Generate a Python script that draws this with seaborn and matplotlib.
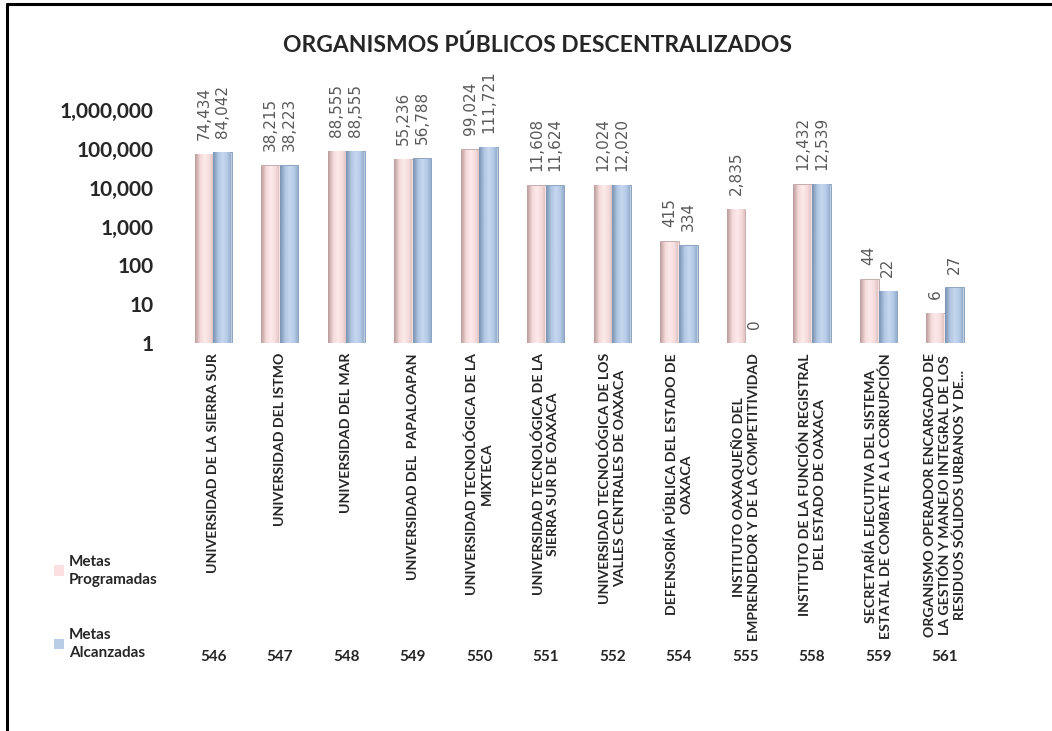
import matplotlib
matplotlib.use("Agg")
import matplotlib.pyplot as plt
import matplotlib.transforms as mtransforms
from matplotlib.patches import Patch
from matplotlib.ticker import FuncFormatter, FixedLocator
from matplotlib.colors import LinearSegmentedColormap
import numpy as np
import pandas as pd
import seaborn as sns

codes = ['546', '547', '548', '549', '550', '551', '552', '554', '555', '558', '559', '561']
names = [
    'UNIVERSIDAD DE LA SIERRA SUR',
    'UNIVERSIDAD DEL ISTMO',
    'UNIVERSIDAD DEL MAR',
    'UNIVERSIDAD DEL  PAPALOAPAN',
    'UNIVERSIDAD TECNOLÓGICA DE LA\nMIXTECA',
    'UNIVERSIDAD TECNOLÓGICA DE LA\nSIERRA SUR DE OAXACA',
    'UNIVERSIDAD TECNOLÓGICA DE LOS\nVALLES CENTRALES DE OAXACA',
    'DEFENSORÍA PÚBLICA DEL ESTADO DE\nOAXACA',
    'INSTITUTO OAXAQUEÑO DEL\nEMPRENDEDOR Y DE LA COMPETITIVIDAD',
    'INSTITUTO DE LA FUNCIÓN REGISTRAL\nDEL ESTADO DE OAXACA',
    'SECRETARÍA EJECUTIVA DEL SISTEMA\nESTATAL DE COMBATE A LA CORRUPCIÓN',
    'ORGANISMO OPERADOR ENCARGADO DE\nLA GESTIÓN Y MANEJO INTEGRAL DE LOS\nRESIDUOS SÓLIDOS URBANOS Y DE...',
]
programadas = [74434, 38215, 88555, 55236, 99024, 11608, 12024, 415, 2835, 12432, 44, 6]
alcanzadas = [84042, 38223, 88555, 56788, 111721, 11624, 12020, 334, 0, 12539, 22, 27]
yticks = [1, 10, 100, 1000, 10000, 100000, 1000000]

series = ['Metas\nProgramadas', 'Metas\nAlcanzadas']
colors = ['#F9DFDF', '#B9CDE6']
edges = ['#BFA3A3', '#7F9AB9']
# sombreado de cilindro (izquierda oscura -> centro claro -> derecha media)
shades = [['#BFA0A0', '#F4D9D9', '#FDEAEA', '#F6DCDC', '#D9BDBD'],
          ['#7E97B5', '#B0C6E2', '#C6D8F0', '#B4CAE6', '#8DA6C4']]

df = pd.DataFrame({
    'code': codes * 2,
    'serie': [series[0]] * len(codes) + [series[1]] * len(codes),
    'valor': programadas + alcanzadas,
})

sns.set_style('white')
plt.rcParams['font.family'] = ['Lato', 'DejaVu Sans']

fig = plt.figure(figsize=(10.52, 7.31), dpi=100)
ax = fig.add_axes([0.171, 0.5308, 0.759, 0.3187])

sns.barplot(data=df, x='code', y='valor', hue='serie', palette=colors,
            width=0.56, gap=0.0, ax=ax, legend=False, linewidth=0.6)
ax.set_yscale('log')

grad = np.linspace(0, 1, 64).reshape(1, -1)
for cont, ec, sh, vals in zip(ax.containers, edges, shades, [programadas, alcanzadas]):
    cmap = LinearSegmentedColormap.from_list('cil', sh)
    for bar, v in zip(cont, vals):
        bar.set_edgecolor(ec)
        x0 = bar.get_x()
        x1 = x0 + bar.get_width()
        if v > 0:
            im = ax.imshow(grad, extent=[x0, x1, 1, v], aspect='auto', cmap=cmap,
                           origin='lower', zorder=bar.get_zorder() + 0.1,
                           interpolation='bilinear')
            im.set_clip_path(bar)
        ax.annotate(f'{v:,.0f}', xy=((x0 + x1) / 2, max(v, 1)), xytext=(0, 10),
                    textcoords='offset points', rotation=90,
                    ha='center', va='bottom', fontsize=11,
                    color='#595959', family=['DejaVu Sans'])

ax.set_ylim(1, 1e6)
ax.set_xlim(-0.5, len(codes) - 0.5)
ax.set_aspect('auto')
ax.yaxis.set_major_locator(FixedLocator(yticks))
ax.yaxis.set_minor_locator(FixedLocator([]))
ax.yaxis.set_major_formatter(FuncFormatter(lambda v, p: f'{v:,.0f}'))
ax.tick_params(axis='y', labelsize=15, length=0, pad=19)
for t in ax.get_yticklabels():
    t.set_fontweight('bold')
ax.set_xticks([])
ax.set_xlabel('')
ax.set_ylabel('')
sns.despine(ax=ax, left=True, bottom=True)

# etiquetas de categorías y claves
trans = mtransforms.blended_transform_factory(ax.transData, fig.transFigure)
for i, (c, n) in enumerate(zip(codes, names)):
    ax.text(i, 0.517, n, transform=trans, rotation=90, ha='center', va='top',
            multialignment='center', fontsize=10.2, fontweight='bold',
            linespacing=1.25)
    ax.text(i, 0.101, c, transform=trans, ha='center', va='center',
            fontsize=11, fontweight='bold')

fig.text(0.511, 0.938, 'ORGANISMOS PÚBLICOS DESCENTRALIZADOS', ha='center',
         va='center', fontsize=16.5, fontweight='bold')

handles = [Patch(facecolor=colors[0], edgecolor='none'),
           Patch(facecolor=colors[1], edgecolor='none')]
leg = fig.legend(handles, series, loc='upper left', bbox_to_anchor=(0.038, 0.26),
                 frameon=False, handlelength=0.7, handleheight=0.7, handletextpad=0.3,
                 labelspacing=2.7, prop={'weight': 'bold', 'size': 11})
for t in leg.get_texts():
    t.set_linespacing(1.35)

# marco
fig.add_artist(plt.Line2D([0.0065, 0.0065], [0, 0.994], transform=fig.transFigure,
                          color='black', linewidth=2.2))
fig.add_artist(plt.Line2D([0.0065, 1], [0.994, 0.994], transform=fig.transFigure,
                          color='black', linewidth=2.2))

fig.savefig('out.png', dpi=100)
